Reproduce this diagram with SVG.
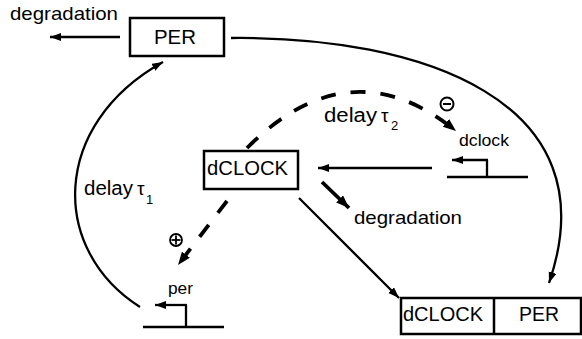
<svg xmlns="http://www.w3.org/2000/svg" width="582" height="339" viewBox="0 0 582 339">
<style>
.t{font-family:"Liberation Sans",Arial,sans-serif;fill:#000}
.box{fill:#fff;stroke:#000;stroke-width:2.5}
.ln{fill:none;stroke:#000;stroke-width:2.3}
.dash{fill:none;stroke:#000;stroke-width:3.8;stroke-dasharray:15 15}
</style>
<defs>
<marker id="ah" markerUnits="userSpaceOnUse" markerWidth="12" markerHeight="10" refX="11" refY="4" orient="auto">
<path d="M0,0 L11,4 L0,8 Z" fill="#000"/>
</marker>
<marker id="ahb" markerUnits="userSpaceOnUse" markerWidth="14" markerHeight="12" refX="13" refY="5" orient="auto">
<path d="M0,0 L13,5 L0,10 Z" fill="#000"/>
</marker>
</defs>
<rect width="582" height="339" fill="#fff"/>
<g id="connectors">
<line class="ln" x1="120" y1="37" x2="50" y2="37" marker-end="url(#ah)"/>
<path class="ln" d="M231,38 C420,36 612,100 549,283" marker-end="url(#ah)"/>
<path class="ln" d="M140,307 C50,250 50,125 163,62" marker-end="url(#ah)"/>
<path class="dash" d="M227,201 L178,265" marker-end="url(#ahb)"/>
<path class="dash" d="M247,148 Q350,45 456,131" marker-end="url(#ahb)"/>
<line class="ln" x1="432" y1="168" x2="318" y2="168" marker-end="url(#ah)"/>
<line x1="322" y1="182" x2="349" y2="208" stroke="#000" stroke-width="3.8" marker-end="url(#ahb)"/>
<line class="ln" x1="299" y1="198" x2="399" y2="298" marker-end="url(#ah)"/>
</g>
<g id="PER">
<rect class="box" x="130" y="18" width="94" height="38"/>
<text class="t" x="154" y="44" font-size="20" textLength="42" lengthAdjust="spacingAndGlyphs">PER</text>
</g>
<g id="degradation1">
<text class="t" x="10" y="20" font-size="19" textLength="108" lengthAdjust="spacingAndGlyphs">degradation</text>
</g>
<g id="dCLOCK">
<rect class="box" x="204" y="151" width="94" height="38"/>
<text class="t" x="207" y="175" font-size="20" textLength="81" lengthAdjust="spacingAndGlyphs">dCLOCK</text>
</g>
<g id="delay1">
<text class="t" x="84" y="195" font-size="20" textLength="49" lengthAdjust="spacingAndGlyphs">delay</text>
<text class="t" x="137" y="195" font-family="'DejaVu Sans',sans-serif" font-size="19">τ</text>
<text class="t" x="146" y="204" font-size="13">1</text>
</g>
<g id="delay2">
<text class="t" x="324" y="122" font-size="20" textLength="53" lengthAdjust="spacingAndGlyphs">delay</text>
<text class="t" x="381" y="122" font-family="'DejaVu Sans',sans-serif" font-size="19">τ</text>
<text class="t" x="391" y="130" font-size="13">2</text>
</g>
<g id="plus">
<circle cx="176" cy="240" r="6" fill="none" stroke="#000" stroke-width="1.8"/>
<line x1="171.5" y1="240" x2="180.5" y2="240" stroke="#000" stroke-width="1.8"/>
<line x1="176" y1="235.5" x2="176" y2="244.5" stroke="#000" stroke-width="1.8"/>
</g>
<g id="minus">
<circle cx="447" cy="104" r="6.5" fill="none" stroke="#000" stroke-width="2"/>
<line x1="443" y1="104" x2="451" y2="104" stroke="#000" stroke-width="2"/>
</g>
<g id="per-gene">
<text class="t" x="168" y="294" font-size="16" textLength="25" lengthAdjust="spacingAndGlyphs">per</text>
<line class="ln" x1="143" y1="327" x2="224" y2="327"/>
<line class="ln" x1="186" y1="327" x2="186" y2="305"/>
<line class="ln" x1="187" y1="305" x2="155" y2="305" marker-end="url(#ah)"/>
</g>
<g id="dclock-gene">
<text class="t" x="459" y="146" font-size="16" textLength="50" lengthAdjust="spacingAndGlyphs">dclock</text>
<line class="ln" x1="447" y1="177" x2="528" y2="177"/>
<line class="ln" x1="487" y1="177" x2="487" y2="160"/>
<line class="ln" x1="488" y1="160" x2="452" y2="160" marker-end="url(#ah)"/>
</g>
<g id="degradation2">
<text class="t" x="354" y="224" font-size="19" textLength="108" lengthAdjust="spacingAndGlyphs">degradation</text>
</g>
<g id="complex">
<rect class="box" x="401" y="298" width="180" height="36"/>
<line x1="494" y1="298" x2="494" y2="334" stroke="#000" stroke-width="2.5"/>
<text class="t" x="403" y="321" font-size="20" textLength="80" lengthAdjust="spacingAndGlyphs">dCLOCK</text>
<text class="t" x="519" y="321" font-size="20" textLength="40" lengthAdjust="spacingAndGlyphs">PER</text>
</g>
</svg>
